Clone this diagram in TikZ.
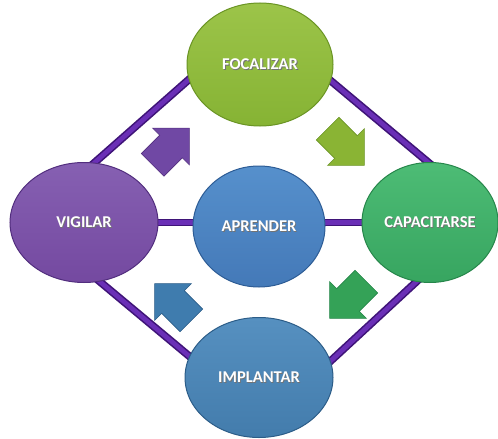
\documentclass[tikz,border=0pt]{standalone}
\usepackage{fontspec}
\setmainfont{Carlito}
\usetikzlibrary{shapes.geometric}
\pgfdeclarelayer{bg}
\pgfsetlayers{bg,main}

% stage colours
\definecolor{fTop}{HTML}{9CC449}
\definecolor{fBot}{HTML}{86B334}
\definecolor{fLine}{HTML}{6A9424}
\definecolor{vTop}{HTML}{8660B2}
\definecolor{vBot}{HTML}{7449A0}
\definecolor{vLine}{HTML}{522E7E}
\definecolor{aTop}{HTML}{5690CC}
\definecolor{aBot}{HTML}{4479B8}
\definecolor{aLine}{HTML}{2D5C95}
\definecolor{cTop}{HTML}{4DBC75}
\definecolor{cBot}{HTML}{37A560}
\definecolor{cLine}{HTML}{26864A}
\definecolor{iTop}{HTML}{5690C0}
\definecolor{iBot}{HTML}{437CAC}
\definecolor{iLine}{HTML}{2C5D88}
% links and arrows
\definecolor{linkEdge}{HTML}{3F1478}
\definecolor{linkCore}{HTML}{6A2FB6}
\definecolor{arPurple}{HTML}{7048A4}
\definecolor{arLime}{HTML}{8AB434}
\definecolor{arBlue}{HTML}{3F7CAE}
\definecolor{arGreen}{HTML}{34A257}

% white label with a soft dark drop shadow
\newcommand{\stagelabel}[1]{%
  \rlap{\hspace{0.9pt}\raisebox{-0.9pt}{\textcolor{black!55}{#1}}}#1}

\tikzset{
  stage/.style={ellipse, inner sep=0pt, line width=1pt, text=white,
    font=\fontsize{16.5}{18}\selectfont\bfseries},
  link/.style={draw=linkEdge, line width=1.6pt, double=linkCore,
    double distance=4.6pt, shorten <=-8pt, shorten >=-8pt},
  pics/blockarrow/.style={code={
    \path[#1] (-26pt,-16pt) -- (0pt,-16pt) -- (0pt,-26pt) -- (26pt,0pt)
      -- (0pt,26pt) -- (0pt,16pt) -- (-26pt,16pt) -- cycle;}}
}

\begin{document}
\begin{tikzpicture}[x=1pt,y=-1pt]
\useasboundingbox (0,0) rectangle (498,439);

% the five stages
\node[stage, minimum width=146pt, minimum height=123pt, draw=fLine,
  top color=fTop, bottom color=fBot] (F) at (260,64.5) {\stagelabel{FOCALIZAR}};
\node[stage, minimum width=148pt, minimum height=120pt, draw=vLine,
  top color=vTop, bottom color=vBot] (V) at (84,222.5) {\stagelabel{VIGILAR}};
\node[stage, minimum width=132pt, minimum height=121pt, draw=aLine,
  top color=aTop, bottom color=aBot] (A) at (259,226.5) {\stagelabel{APRENDER}};
\node[stage, minimum width=136pt, minimum height=120pt, draw=cLine,
  top color=cTop, bottom color=cBot] (C) at (430,222.5) {\stagelabel{CAPACITARSE}};
\node[stage, minimum width=148pt, minimum height=120pt, draw=iLine,
  top color=iTop, bottom color=iBot] (I) at (259,377.5) {\stagelabel{IMPLANTAR}};

% connecting bars behind the stages
\begin{pgfonlayer}{bg}
  \draw[link] (V.80) -- (F.192);
  \draw[link] (F.-13.5) -- (C.92);
  \draw[link] (V.285) -- (I.163.8);
  \draw[link] (C.257.7) -- (I.13.5);
  \draw[link] (V) -- (C);
\end{pgfonlayer}

% cycle direction arrows
\pic[rotate=45] at (171,146.5) {blockarrow={fill=arPurple, draw=vLine, line width=0.6pt}};
\pic[rotate=-45] at (346,147) {blockarrow={fill=arLime, draw=fLine, line width=0.6pt}};
\pic[rotate=225] at (348,300) {blockarrow={fill=arGreen, draw=cLine, line width=0.6pt}};
\pic[rotate=135] at (173,302) {blockarrow={fill=arBlue, draw=iLine, line width=0.6pt}};
\end{tikzpicture}
\end{document}
